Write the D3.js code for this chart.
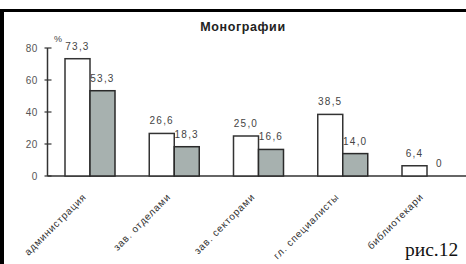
<!DOCTYPE html>
<html><head><meta charset="utf-8">
<script src="https://cdn.jsdelivr.net/npm/d3@7"></script>
<style>body{margin:0;background:#fff}svg{display:block}</style>
</head><body>
<script>
const categories = ["администрация","зав. отделами","зав. секторами","гл. специалисты","библиотекари"];
const series1 = [73.3, 26.6, 25.0, 38.5, 6.4];
const series2 = [53.3, 18.3, 16.6, 14.0, 0];
const yTicks = [0, 20, 40, 60, 80];
const title = "Монографии";
const caption = "рис.12";

const W = 466, H = 264;
const svg = d3.select("body").append("svg").attr("width", W).attr("height", H);

// frame
svg.append("rect").attr("x",0).attr("y",9).attr("width",W).attr("height",3).attr("fill","#000");
svg.append("rect").attr("x",0).attr("y",9).attr("width",4).attr("height",H-9).attr("fill","#000");

const y = d3.scaleLinear().domain([0,80]).range([176,48]);
const x = d3.scalePoint().domain(categories).range([90,427]);
const bw = 25;
const fmt = v => v === 0 ? "0" : d3.format(".1f")(v).replace(".", ",");
const lf = "Liberation Sans, Arial, sans-serif";

// axes
const axisX0 = 47.5;
svg.append("line").attr("x1",axisX0).attr("x2",W).attr("y1",y(0)).attr("y2",y(0)).attr("stroke","#333").attr("stroke-width",1.5);
svg.append("line").attr("x1",axisX0).attr("x2",axisX0).attr("y1",y(0)).attr("y2",y(80)).attr("stroke","#333").attr("stroke-width",1.5);
const yt = svg.append("g").selectAll("g").data(yTicks).join("g");
yt.append("line").attr("x1",axisX0-3).attr("x2",axisX0+4).attr("y1",d=>y(d)).attr("y2",d=>y(d)).attr("stroke","#333").attr("stroke-width",1.2);
yt.append("text").attr("x",38).attr("y",d=>y(d)+3.5).attr("text-anchor","end")
  .attr("font-family",lf).attr("font-size",10).attr("letter-spacing",0.6).attr("fill","#555").text(d=>d);

svg.append("text").attr("x",54).attr("y",42).attr("font-family",lf)
  .attr("font-size",9).attr("fill","#444").text("%");

// bars
const g = svg.append("g");
g.selectAll("rect.s1").data(series1).join("rect").attr("class","s1")
  .attr("x",(d,i)=>x(categories[i])-bw).attr("y",d=>y(d)).attr("width",bw).attr("height",d=>y(0)-y(d))
  .attr("fill","#fff").attr("stroke","#333").attr("stroke-width",1.5);
g.selectAll("rect.s2").data(series2).join("rect").attr("class","s2")
  .attr("x",(d,i)=>x(categories[i])).attr("y",d=>y(d)).attr("width",bw).attr("height",d=>y(0)-y(d))
  .attr("fill","#a7b1af").attr("stroke","#2a2a2a").attr("stroke-width",1.5);

g.selectAll("text.l1").data(series1).join("text").attr("class","l1")
  .attr("x",(d,i)=>x(categories[i])-bw/2).attr("y",d=>y(d)-9).attr("text-anchor","middle")
  .attr("font-family",lf).attr("font-size",10).attr("letter-spacing",1.2).attr("fill","#444").text(fmt);
g.selectAll("text.l2").data(series2).join("text").attr("class","l2")
  .attr("x",(d,i)=>x(categories[i])+bw/2).attr("y",d=>y(d)-9).attr("text-anchor","middle")
  .attr("font-family",lf).attr("font-size",10).attr("letter-spacing",1.2).attr("fill","#444").text(fmt);

// category labels
svg.append("g").selectAll("text").data(categories).join("text")
  .attr("transform",d=>`translate(${x(d)-3},${y(0)+21.5}) rotate(-45)`)
  .attr("text-anchor","end").attr("font-family",lf).attr("font-size",10)
  .attr("letter-spacing",0.8).attr("fill","#333").text(d=>d);

// title
svg.append("text").attr("x",243).attr("y",31).attr("text-anchor","middle")
  .attr("font-family",lf).attr("font-weight","bold").attr("font-size",12.5).attr("letter-spacing",0.6).attr("fill","#222").text(title);

// caption
svg.append("text").attr("x",405).attr("y",256).attr("font-family","Liberation Serif, Times New Roman, serif")
  .attr("font-size",19.5).attr("fill","#111").text(caption);
</script>
</body></html>
